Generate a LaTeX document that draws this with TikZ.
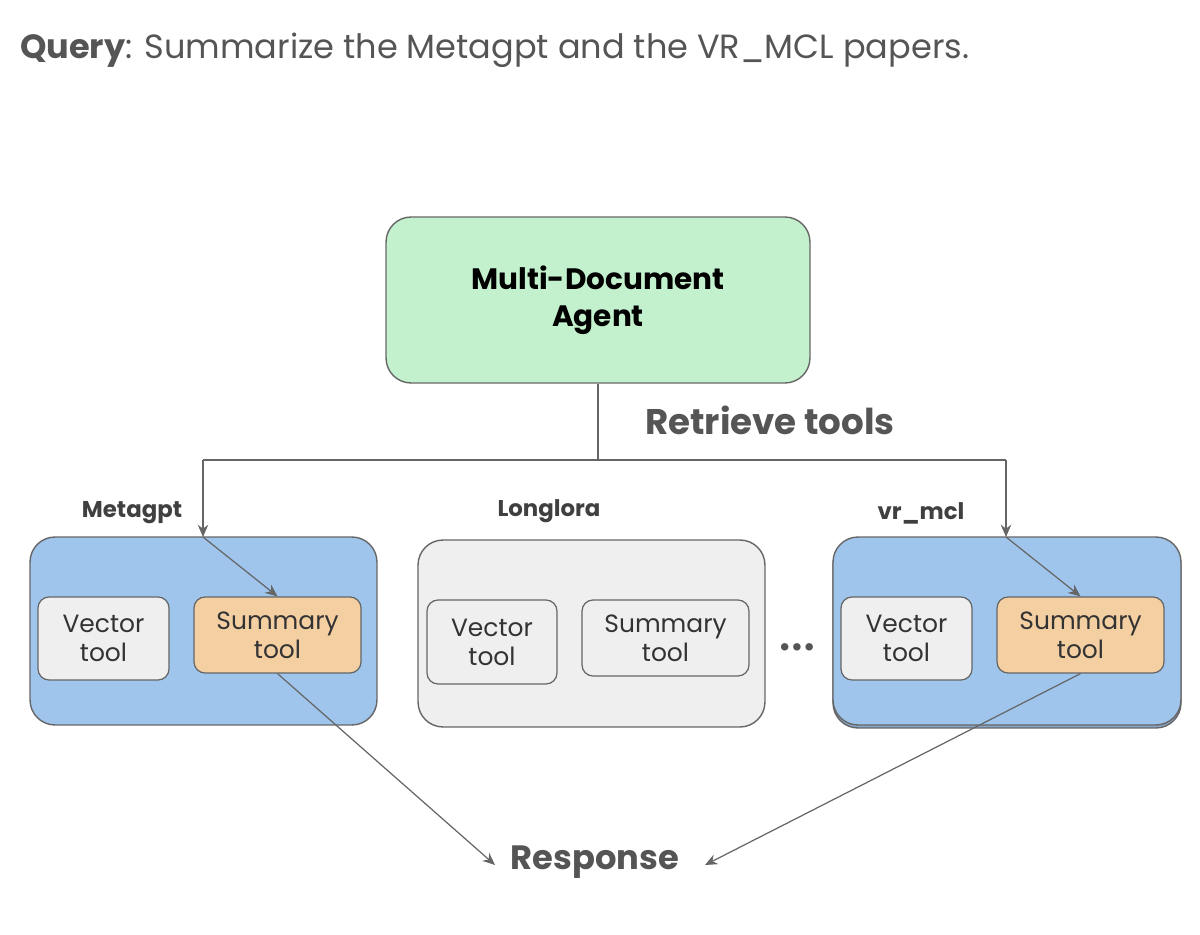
\documentclass[tikz,border=0pt]{standalone}
\usepackage{fontspec}
\setmainfont{Poppins}
\usetikzlibrary{arrows.meta}
\definecolor{txt}{HTML}{555555}
\definecolor{agentg}{HTML}{C3F1CD}
\definecolor{blu}{HTML}{9FC5EC}
\definecolor{lgray}{HTML}{EFEFEF}
\definecolor{org}{HTML}{F4CFA2}
\definecolor{edge}{HTML}{666666}
\begin{document}
\begin{tikzpicture}[x=0.02cm,y=-0.02cm,
  box/.style={draw=edge,line width=0.8pt,rounded corners=0.5cm,inner sep=0pt},
  tool/.style={draw=edge,line width=0.7pt,rounded corners=0.22cm,inner sep=0pt,align=center,
     text=black!80,font=\fontsize{14.2}{16.5}\selectfont},
  lbl/.style={font=\bfseries\fontsize{13}{15}\selectfont,text=black!75},
  arr/.style={draw=edge,line width=0.7pt,-{Stealth[length=7pt,width=6pt]}},
  ln/.style={draw=edge,line width=0.7pt}]
\useasboundingbox (0,0) rectangle (1200,935);
\node[anchor=west,text=txt,font=\fontsize{19.1}{23}\selectfont] (q) at (14,50) {\textbf{Query}: Summarize the Metagpt and the VR\_MCL papers.};
% agent
\node[box,fill=agentg,minimum width=8.48cm,minimum height=3.32cm,align=center,font=\bfseries\fontsize{16.8}{21}\selectfont] (agent) at (598,300) {Multi-Document\\Agent};
\node[font=\bfseries\fontsize{20.3}{23}\selectfont,text=txt] (rt) at (770,420) {Retrieve tools};
% groups
\node[box,fill=blu,minimum width=6.94cm,minimum height=3.76cm] (g1) at (203.5,631) {};
\node[box,fill=lgray,minimum width=6.94cm,minimum height=3.74cm] (g2) at (591.5,633.5) {};
\node[box,fill=blu!85!black,minimum width=6.96cm,minimum height=3.76cm] (g3s) at (1007,634) {};
\node[box,fill=blu,minimum width=6.96cm,minimum height=3.76cm] (g3) at (1007,631) {};
\node[lbl] (l1) at (132,513) {Metagpt};
\node[lbl] (l2) at (549,511) {Longlora};
\node[lbl] (l3) at (921,513) {vr\_mcl};
% tools
\node[tool,fill=lgray,minimum width=2.62cm,minimum height=1.66cm] (v1) at (103.5,638.5) {Vector\\tool};
\node[tool,fill=org,minimum width=3.34cm,minimum height=1.52cm] (s1) at (277.5,635) {Summary\\tool};
\node[tool,fill=lgray,minimum width=2.6cm,minimum height=1.68cm] (v2) at (492,642) {Vector\\tool};
\node[tool,fill=lgray,minimum width=3.34cm,minimum height=1.52cm] (s2) at (665.5,638) {Summary\\tool};
\node[tool,fill=lgray,minimum width=2.62cm,minimum height=1.66cm] (v3) at (906.5,638.5) {Vector\\tool};
\node[tool,fill=org,minimum width=3.34cm,minimum height=1.52cm] (s3) at (1080.5,635) {Summary\\tool};
\node[font=\bfseries\fontsize{14}{16}\selectfont,text=txt] (dots) at (797,650) {•••};
\node[font=\bfseries\fontsize{19.2}{22}\selectfont,text=txt] (resp) at (595,862) {Response};
% connectors
\coordinate (j) at (598,460);
\coordinate (jl) at (203,460);
\coordinate (jr) at (1006,460);
\coordinate (t1) at (203,537);
\coordinate (t3) at (1006,537);
\coordinate (r1) at (495,865);
\coordinate (r3) at (705,865);
\draw[ln] (agent.south) -- (j);
\draw[ln] (jl) -- (jr);
\draw[arr] (jl) -- (t1);
\draw[arr] (jr) -- (t3);
\draw[arr] (t1) -- (s1.north);
\draw[arr] (t3) -- (s3.north);
\draw[arr] (s1.south) -- (r1);
\draw[arr] (s3.south) -- (r3);
\end{tikzpicture}
\end{document}
